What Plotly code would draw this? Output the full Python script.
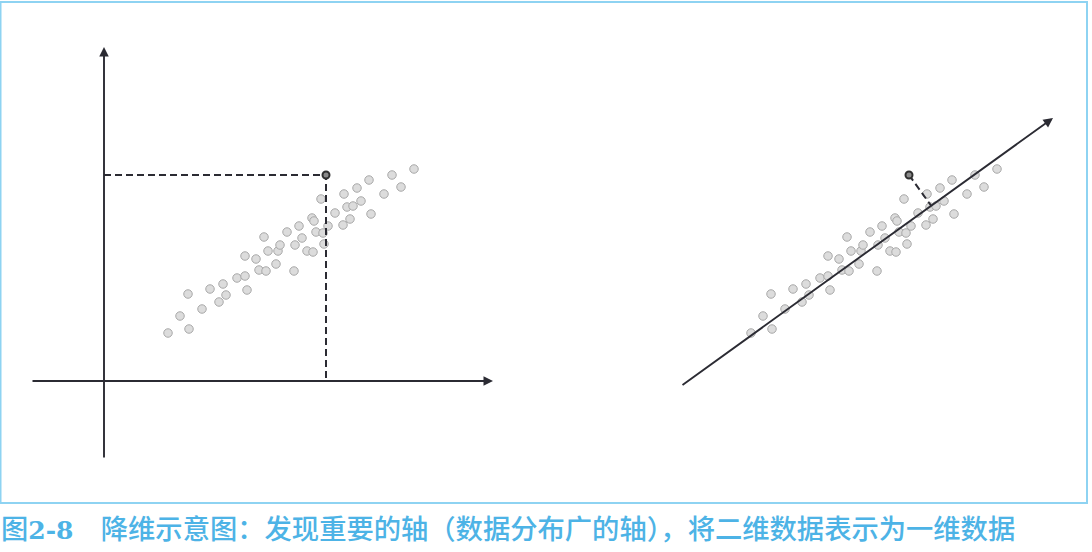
import plotly.graph_objects as go

# ---- data (units: original picture scaled, origin at left-panel axes crossing) ----
pts_x = [6.4, 8.5, 7.6, 8.4, 9.8, 10.6, 11.5, 12.2, 11.9, 13.3, 14.1, 14.3, 14.1, 15.5, 16.2,
         15.2, 16.0, 16.4, 17.4, 17.6, 17.2, 18.3, 19.0, 19.1, 19.5, 19.8, 20.3, 20.9, 20.8,
         21.0, 21.2, 21.9, 22.0, 21.7, 22.4, 23.1, 23.9, 24.0, 24.3, 24.9, 24.6, 25.3, 25.7,
         26.5, 26.7, 28.0, 28.8, 29.7, 31.0]
pts_y = [4.8, 5.2, 6.5, 8.7, 7.2, 9.2, 7.9, 8.6, 9.7, 10.3, 10.5, 9.1, 12.5, 11.1, 11.0,
         12.2, 14.4, 13.0, 13.0, 13.6, 11.7, 14.9, 11.0, 13.6, 15.5, 14.3, 13.0, 12.9, 16.3,
         16.0, 14.9, 14.8, 13.7, 18.2, 15.5, 16.8, 15.6, 18.7, 17.4, 17.5, 16.2, 19.3, 18.0,
         20.1, 16.7, 18.7, 20.6, 19.4, 21.2]
hi_x = [22.2]
hi_y = [20.6]

# axes of left panel: (start, end)
xaxis_line = ([-7.3, 38.9], [0.0, 0.0])
yaxis_line = ([0.0, 0.0], [-7.8, 33.4])
# principal axis on right panel
pc_line = ([-0.6, 36.6], [-0.5, 26.3])

caption = ('图<span style="font-family:DejaVu Serif;font-size:25px"><b>2-8</b></span>　'
           '降维示意图：发现重要的轴（数据分布广的轴），将二维数据表示为一维数据')

# ---- figure ----
W, H = 1092, 552
PX = 10.0  # pixels per unit
ORIG_X, ORIG_Y, SHIFT = 104, 381, 583

AX_COL = "#2b2b33"
PT_FILL, PT_LINE = "#dcdcdc", "#a9a9a9"

fig = go.Figure()

for xa in ["x", "x2"]:
    fig.add_trace(go.Scatter(
        x=pts_x, y=pts_y, mode="markers", xaxis=xa, yaxis="y",
        marker=dict(size=8.5, color=PT_FILL, line=dict(color=PT_LINE, width=1)),
        hoverinfo="skip", showlegend=False))

# dashed projection lines (left)
fig.add_trace(go.Scatter(x=[0, hi_x[0], hi_x[0]], y=[hi_y[0], hi_y[0], 0], mode="lines",
                         line=dict(color=AX_COL, width=2, dash="7px,4px"),
                         xaxis="x", yaxis="y", hoverinfo="skip", showlegend=False))

# perpendicular projection onto principal axis (right)
(ax0, ax1), (ay0, ay1) = pc_line
dx, dy = ax1 - ax0, ay1 - ay0
t = ((hi_x[0] - ax0) * dx + (hi_y[0] - ay0) * dy) / (dx * dx + dy * dy)
proj = (ax0 + t * dx, ay0 + t * dy)
fig.add_trace(go.Scatter(x=[hi_x[0], proj[0]], y=[hi_y[0], proj[1]], mode="lines",
                         line=dict(color=AX_COL, width=2, dash="7px,4px"),
                         xaxis="x2", yaxis="y", hoverinfo="skip", showlegend=False))

for xa in ["x", "x2"]:
    fig.add_trace(go.Scatter(
        x=hi_x, y=hi_y, mode="markers", xaxis=xa, yaxis="y",
        marker=dict(size=7, color="#8a8a8a", line=dict(color="#303030", width=2)),
        hoverinfo="skip", showlegend=False))

def arrow(line, xref):
    xs, ys = line
    fig.add_annotation(x=xs[1], y=ys[1], ax=xs[0], ay=ys[0], xref=xref, yref="y",
                       axref=xref, ayref="y", text="", showarrow=True,
                       arrowhead=2, arrowsize=1.0, arrowwidth=1.9, arrowcolor=AX_COL)

arrow(xaxis_line, "x")
arrow(yaxis_line, "x")
arrow(pc_line, "x2")

fig.add_annotation(x=0, y=1 - 527 / H, xref="paper", yref="paper", xanchor="left",
                   yanchor="middle", text=caption, showarrow=False, borderpad=0,
                   font=dict(family="Noto Sans CJK SC", size=27.3, color="#4db3e6", weight=500))

# border
fig.add_shape(type="rect", xref="paper", yref="paper", x0=0.5 / W, x1=1087 / W,
              y0=1 - 503 / H, y1=1 - 2 / H, line=dict(color="#8ed3f2", width=2))

xr = [-ORIG_X / PX, (W - ORIG_X) / PX]
fig.update_layout(
    width=W, height=H, margin=dict(l=0, r=0, t=0, b=0),
    paper_bgcolor="white", plot_bgcolor="white",
    xaxis=dict(range=xr, visible=False, domain=[0, 1], fixedrange=True),
    xaxis2=dict(range=[xr[0] - SHIFT / PX, xr[1] - SHIFT / PX], visible=False,
                overlaying="x", fixedrange=True),
    yaxis=dict(range=[(ORIG_Y - H) / PX, ORIG_Y / PX], visible=False, fixedrange=True),
)

fig.write_html("out.html", config={"displayModeBar": False},
               post_script="document.body.style.margin='0';")
